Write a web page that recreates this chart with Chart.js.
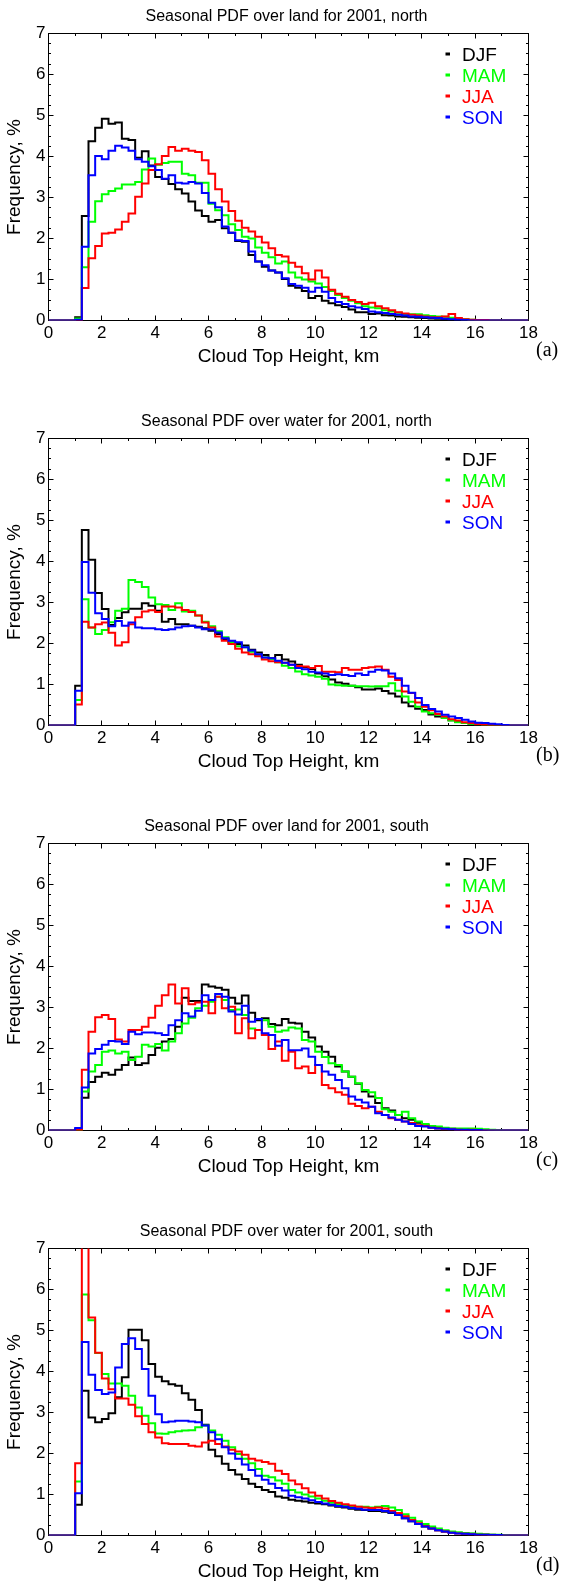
<!DOCTYPE html>
<html>
<head>
<meta charset="utf-8">
<script src="https://cdn.jsdelivr.net/npm/chart.js@4.4.1/dist/chart.umd.min.js"></script>
<style>
html,body{margin:0;padding:0;background:#fff;}
#wrap{position:relative;width:566px;height:1583px;overflow:hidden;background:#fff;}
canvas{position:absolute;left:0;}
</style>
</head>
<body>
<div id="wrap">
<canvas id="p0" width="566" height="405" style="top:0px"></canvas>
<canvas id="p1" width="566" height="405" style="top:405px"></canvas>
<canvas id="p2" width="566" height="405" style="top:810px"></canvas>
<canvas id="p3" width="566" height="405" style="top:1215px"></canvas>
</div>
<script>
// ---------------- data ----------------
const panelTitles = [
  "Seasonal PDF over land for 2001, north",
  "Seasonal PDF over water for 2001, north",
  "Seasonal PDF over land for 2001, south",
  "Seasonal PDF over water for 2001, south"
];
const panelTags = ["(a)", "(b)", "(c)", "(d)"];
const seasons = ["DJF", "MAM", "JJA", "SON"];
const seasonColors = ["#000000", "#00ff00", "#ff0000", "#0000ff"];
const xTitle = "Cloud Top Height, km";
const yTitle = "Frequency, %";

// left edges of 0.25 km bins
const binEdges = [
  0,0.25,0.5,0.75, 1,1.25,1.5,1.75, 2,2.25,2.5,2.75, 3,3.25,3.5,3.75,
  4,4.25,4.5,4.75, 5,5.25,5.5,5.75, 6,6.25,6.5,6.75, 7,7.25,7.5,7.75,
  8,8.25,8.5,8.75, 9,9.25,9.5,9.75, 10,10.25,10.5,10.75, 11,11.25,11.5,11.75,
  12,12.25,12.5,12.75, 13,13.25,13.5,13.75, 14,14.25,14.5,14.75, 15,15.25,15.5,15.75,
  16,16.25,16.5,16.75, 17,17.25,17.5,17.75
];
const xEnd = 18;

// (a) land, north
const landNorthDJF = [
  0,0,0,0, 0.08,2.55,4.37,4.70, 4.92,4.80,4.83,4.43, 4.40,3.97,4.13,3.78,
  3.50,3.45,3.33,3.20, 3.10,2.90,2.68,2.55, 2.41,2.45,2.25,2.14, 1.94,1.92,1.60,1.44,
  1.31,1.22,1.17,1.01, 0.85,0.80,0.72,0.55, 0.60,0.48,0.42,0.37, 0.33,0.27,0.20,0.20,
  0.16,0.17,0.13,0.12, 0.10,0.09,0.08,0.07, 0.06,0.05,0.04,0.03, 0.03,0.02,0.01,0.01,
  0,0,0,0, 0,0,0,0
];
const landNorthMAM = [
  0,0,0,0, 0.05,1.30,2.41,2.91, 3.08,3.16,3.22,3.32, 3.32,3.38,3.68,3.95,
  3.80,3.84,3.87,3.87, 3.58,3.54,3.36,3.36, 2.85,2.69,2.57,2.35, 2.21,2.04,2.00,1.78,
  1.65,1.54,1.39,1.44, 1.17,1.05,1.00,0.95, 0.90,0.82,0.72,0.62, 0.55,0.48,0.42,0.35,
  0.32,0.30,0.25,0.22, 0.19,0.16,0.15,0.15, 0.13,0.11,0.10,0.09, 0.07,0.04,0.03,0.02,
  0.01,0,0,0, 0,0,0,0
];
const landNorthJJA = [
  0,0,0,0, 0,0.79,1.52,1.82, 2.12,2.14,2.22,2.41, 2.61,3.02,3.34,3.67,
  3.81,4.01,4.23,4.14, 4.19,4.14,4.11,3.91, 3.58,3.20,2.90,2.67, 2.43,2.26,2.17,2.04,
  1.90,1.76,1.60,1.56, 1.41,1.31,1.15,1.00, 1.22,1.05,0.75,0.65, 0.58,0.50,0.45,0.40,
  0.43,0.35,0.30,0.25, 0.20,0.17,0.14,0.12, 0.10,0.08,0.08,0.10, 0.16,0.06,0.03,0.02,
  0.01,0.01,0,0, 0,0,0,0
];
const landNorthSON = [
  0,0,0,0, 0.02,1.80,3.54,4.01, 3.93,4.14,4.26,4.22, 4.14,3.93,3.87,3.76,
  3.67,3.46,3.54,3.36, 3.34,3.38,3.34,3.11, 2.87,2.76,2.29,2.14, 1.96,1.94,1.68,1.44,
  1.35,1.22,1.17,1.03, 0.89,0.85,0.80,0.70, 0.80,0.70,0.55,0.45, 0.40,0.35,0.32,0.28,
  0.22,0.20,0.18,0.16, 0.14,0.12,0.10,0.09, 0.08,0.07,0.06,0.04, 0.03,0.02,0.01,0,
  0,0,0,0, 0,0,0,0
];

// (b) water, north
const waterNorthDJF = [
  0,0,0,0, 0.97,4.77,4.04,3.23, 2.84,2.45,2.62,2.76, 2.85,2.85,2.98,2.92,
  2.80,2.53,2.60,2.47, 2.47,2.43,2.41,2.37, 2.31,2.23,2.11,2.03, 1.99,1.95,1.85,1.78,
  1.72,1.64,1.72,1.61, 1.56,1.48,1.42,1.38, 1.27,1.20,1.12,1.05, 1.02,0.97,0.93,0.88,
  0.88,0.90,0.84,0.78, 0.71,0.56,0.47,0.41, 0.38,0.27,0.22,0.18, 0.13,0.09,0.06,0.04,
  0.03,0.02,0.01,0.01, 0,0,0,0
];
const waterNorthMAM = [
  0,0,0,0, 0.62,3.08,2.39,2.23, 2.33,2.52,2.80,2.85, 3.55,3.50,3.38,3.12,
  2.96,2.94,2.82,2.98, 2.78,2.80,2.68,2.53, 2.42,2.30,2.15,2.03, 1.93,1.91,1.80,1.72,
  1.66,1.62,1.54,1.46, 1.40,1.32,1.25,1.22, 1.19,1.14,1.00,0.98, 0.97,0.97,0.96,0.96,
  0.95,0.96,0.96,1.03, 0.85,0.71,0.58,0.46, 0.34,0.30,0.26,0.18, 0.12,0.08,0.06,0.04,
  0.03,0.02,0.01,0.01, 0,0,0,0
];
const waterNorthJJA = [
  0,0,0,0, 0.51,2.53,2.39,2.47, 2.51,2.26,1.95,2.03, 2.47,2.64,2.78,2.81,
  2.77,2.90,2.90,2.88, 2.82,2.77,2.68,2.51, 2.39,2.17,2.07,1.99, 1.87,1.78,1.74,1.69,
  1.61,1.57,1.54,1.53, 1.48,1.45,1.44,1.40, 1.45,1.31,1.31,1.30, 1.40,1.36,1.36,1.40,
  1.42,1.44,1.36,1.19, 1.11,0.83,0.79,0.56, 0.46,0.37,0.28,0.22, 0.15,0.12,0.08,0.06,
  0.03,0.02,0.01,0, 0,0,0,0
];
const waterNorthSON = [
  0,0,0,0, 0.85,3.99,3.24,2.74, 2.60,2.42,2.55,2.43, 2.51,2.39,2.37,2.37,
  2.35,2.33,2.35,2.39, 2.42,2.43,2.39,2.35, 2.34,2.27,2.13,2.07, 2.03,1.91,1.83,1.74,
  1.66,1.64,1.58,1.53, 1.48,1.40,1.37,1.31, 1.29,1.27,1.23,1.25, 1.23,1.21,1.27,1.23,
  1.31,1.36,1.34,1.27, 1.15,0.97,0.80,0.67, 0.50,0.40,0.34,0.26, 0.22,0.18,0.14,0.10,
  0.07,0.06,0.04,0.03, 0.01,0,0,0
];

// (c) land, south
const landSouthDJF = [
  0,0,0,0, 0.03,0.80,1.18,1.31, 1.41,1.36,1.48,1.60, 1.78,1.60,1.64,1.84,
  2.02,2.17,2.23,2.53, 3.24,3.16,3.16,3.56, 3.51,3.48,3.43,3.24, 3.10,3.29,2.87,2.69,
  2.74,2.60,2.57,2.72, 2.63,2.61,2.41,2.27, 2.05,1.92,1.80,1.56, 1.44,1.31,1.14,0.95,
  0.83,0.67,0.54,0.49, 0.38,0.30,0.26,0.19, 0.14,0.10,0.07,0.05, 0.04,0.03,0.02,0.02,
  0.01,0.01,0,0, 0,0,0,0
];
const landSouthMAM = [
  0,0,0,0, 0.02,0.95,1.44,1.60, 1.92,1.95,1.88,1.92, 1.72,1.80,2.09,2.05,
  2.11,1.95,2.17,2.37, 2.61,2.75,2.98,3.04, 3.14,3.26,3.18,2.94, 2.95,2.82,2.49,2.45,
  2.69,2.53,2.41,2.44, 2.51,2.49,2.21,2.17, 1.92,1.79,1.64,1.60, 1.44,1.31,1.15,0.99,
  0.93,0.79,0.52,0.46, 0.38,0.46,0.30,0.22, 0.16,0.11,0.10,0.07, 0.05,0.05,0.05,0.05,
  0.04,0.03,0.02,0.01, 0,0,0,0
];
const landSouthJJA = [
  0,0,0,0, 0.01,1.48,2.41,2.76, 2.82,2.72,2.22,2.17, 2.45,2.45,2.53,2.75,
  3.04,3.30,3.56,3.10, 3.47,3.08,3.12,3.14, 2.86,3.26,2.98,3.02, 2.37,2.74,2.25,2.45,
  2.33,1.99,2.17,1.70, 1.92,1.52,1.56,1.40, 1.60,1.11,1.03,0.93, 0.87,0.65,0.60,0.54,
  0.58,0.46,0.38,0.30, 0.26,0.22,0.18,0.13, 0.11,0.07,0.05,0.03, 0.03,0.02,0.01,0.02,
  0.01,0,0,0, 0,0,0,0
];
const landSouthSON = [
  0,0,0,0, 0.06,1.05,1.88,1.99, 2.09,2.18,2.17,2.11, 2.41,2.35,2.39,2.39,
  2.37,2.33,2.57,2.69, 2.86,2.78,2.92,3.30, 3.18,3.33,3.26,2.90, 2.83,3.04,2.65,2.72,
  2.37,2.33,2.07,2.21, 1.96,1.96,2.00,1.80, 1.60,1.44,1.36,1.23, 1.03,0.83,0.75,0.68,
  0.58,0.42,0.38,0.32, 0.26,0.22,0.16,0.11, 0.10,0.07,0.05,0.04, 0.03,0.02,0.02,0.01,
  0.01,0,0,0, 0,0,0,0
];

// (d) water, south
const waterSouthDJF = [
  0,0,0,0, 0.75,3.53,2.88,2.76, 2.84,2.98,3.37,3.86, 5.02,5.02,4.76,4.18,
  3.87,3.76,3.69,3.65, 3.47,3.31,3.06,2.70, 2.09,1.93,1.75,1.60, 1.49,1.38,1.26,1.18,
  1.11,1.06,0.95,0.92, 0.87,0.85,0.83,0.80, 0.78,0.76,0.73,0.70, 0.68,0.65,0.63,0.62,
  0.60,0.60,0.58,0.55, 0.50,0.42,0.35,0.28, 0.22,0.17,0.13,0.10, 0.08,0.06,0.05,0.04,
  0.03,0.02,0.02,0.01, 0.01,0,0,0
];
const waterSouthMAM = [
  0,0,0,0, 1.32,5.88,5.25,4.45, 3.94,3.71,3.71,3.65, 3.41,3.12,2.92,2.74,
  2.49,2.48,2.52,2.54, 2.56,2.57,2.64,2.68, 2.56,2.46,2.31,2.15, 1.99,1.87,1.76,1.62,
  1.46,1.42,1.34,1.26, 1.11,1.05,1.00,0.95, 0.90,0.85,0.80,0.77, 0.74,0.72,0.70,0.70,
  0.68,0.70,0.72,0.68, 0.62,0.52,0.43,0.35, 0.28,0.22,0.17,0.13, 0.10,0.08,0.06,0.05,
  0.04,0.03,0.02,0.02, 0.01,0,0,0
];
const waterSouthJJA = [
  0,0,0,0, 1.76,7.80,5.32,4.46, 3.83,3.57,3.34,3.34, 3.19,2.91,2.72,2.52,
  2.39,2.25,2.23,2.23, 2.23,2.19,2.17,2.27, 2.31,2.23,2.17,2.09, 2.05,1.97,1.87,1.83,
  1.79,1.75,1.58,1.50, 1.34,1.25,1.15,1.05, 0.97,0.90,0.84,0.80, 0.76,0.73,0.70,0.68,
  0.67,0.68,0.66,0.60, 0.55,0.47,0.38,0.30, 0.23,0.17,0.13,0.10, 0.07,0.05,0.04,0.03,
  0.02,0.02,0.01,0.01, 0,0,0,0
];
const waterSouthSON = [
  0,0,0,0, 1.03,4.72,3.92,3.55, 3.45,3.49,4.10,4.67, 4.81,4.55,4.06,3.41,
  2.96,2.76,2.78,2.80, 2.80,2.78,2.76,2.68, 2.52,2.35,2.15,2.00, 1.87,1.73,1.60,1.46,
  1.36,1.26,1.16,1.10, 0.97,0.93,0.90,0.86, 0.82,0.78,0.75,0.72, 0.70,0.67,0.65,0.63,
  0.62,0.62,0.60,0.56, 0.50,0.42,0.35,0.28, 0.22,0.17,0.13,0.10, 0.07,0.05,0.04,0.03,
  0.02,0.02,0.01,0.01, 0,0,0,0
];

const panels = [
  [landNorthDJF, landNorthMAM, landNorthJJA, landNorthSON],
  [waterNorthDJF, waterNorthMAM, waterNorthJJA, waterNorthSON],
  [landSouthDJF, landSouthMAM, landSouthJJA, landSouthSON],
  [waterSouthDJF, waterSouthMAM, waterSouthJJA, waterSouthSON]
];

// ---------------- drawing ----------------
const FONT = "'Liberation Sans', Arial, Helvetica, sans-serif";
const SERIF = "'Liberation Serif', 'Times New Roman', serif";

function toSteps(vals) {
  const pts = binEdges.map((x, i) => ({ x: x, y: vals[i] }));
  pts.push({ x: xEnd, y: vals[vals.length - 1] });
  return pts;
}

function framePlugin(idx) {
  return {
    id: 'frame' + idx,
    beforeDatasetsDraw(chart) {
      const { ctx, chartArea: a, scales: { x, y } } = chart;
      const snap = v => Math.floor(v) + 0.5;
      ctx.save();
      ctx.strokeStyle = '#000';
      ctx.lineWidth = 1;
      ctx.strokeRect(a.left, a.top, a.right - a.left, a.bottom - a.top);
      ctx.beginPath();
      const xt = x.ticks.map(t => t.value);
      const yt = y.ticks.map(t => t.value);
      const MAJ = 5, MIN = 2.5;
      xt.forEach(v => {
        const p = snap(x.getPixelForValue(v));
        ctx.moveTo(p, a.bottom); ctx.lineTo(p, a.bottom - MAJ);
        ctx.moveTo(p, a.top); ctx.lineTo(p, a.top + MAJ);
      });
      for (let i = 0; i < xt.length - 1; i++) {
        const p = snap(x.getPixelForValue((xt[i] + xt[i + 1]) / 2));
        ctx.moveTo(p, a.bottom); ctx.lineTo(p, a.bottom - MIN);
        ctx.moveTo(p, a.top); ctx.lineTo(p, a.top + MIN);
      }
      yt.forEach(v => {
        const p = snap(y.getPixelForValue(v));
        ctx.moveTo(a.left, p); ctx.lineTo(a.left + MAJ, p);
        ctx.moveTo(a.right, p); ctx.lineTo(a.right - MAJ, p);
      });
      for (let i = 0; i < yt.length - 1; i++) {
        for (let k = 1; k < 4; k++) {
          const p = snap(y.getPixelForValue(yt[i] + (yt[i + 1] - yt[i]) * k / 4));
          ctx.moveTo(a.left, p); ctx.lineTo(a.left + MIN, p);
          ctx.moveTo(a.right, p); ctx.lineTo(a.right - MIN, p);
        }
      }
      ctx.stroke();
      ctx.restore();
    },
    afterDraw(chart) {
      const { ctx, chartArea: a } = chart;
      ctx.save();
      // panel title
      ctx.fillStyle = '#000';
      ctx.font = '16px ' + FONT;
      ctx.textAlign = 'center';
      ctx.textBaseline = 'alphabetic';
      ctx.fillText(panelTitles[idx], (a.left + a.right) / 2 - 2, a.top - 12.8);
      // legend
      ctx.font = '19px ' + FONT;
      ctx.textAlign = 'left';
      seasons.forEach((s, k) => {
        const base = a.top + 27.5 + k * 21;
        ctx.fillStyle = seasonColors[k];
        ctx.fillRect(a.right - 83, base - 8.5, 4.5, 3);
        ctx.fillText(s, a.right - 66.5, base);
      });
      // panel tag
      ctx.fillStyle = '#000';
      ctx.font = '20px ' + SERIF;
      ctx.fillText(panelTags[idx], a.right + 7.5, a.bottom + 35);
      ctx.restore();
    }
  };
}

function makePanel(idx) {
  const seriesList = panels[idx];
  new Chart(document.getElementById('p' + idx), {
    type: 'line',
    data: {
      datasets: seasons.map((s, k) => ({
        label: s,
        data: toSteps(seriesList[k]),
        borderColor: seasonColors[k],
        backgroundColor: seasonColors[k],
        borderWidth: 2,
        pointRadius: 0,
        stepped: 'before',
        fill: false,
        order: 3 - k
      }))
    },
    options: {
      responsive: false,
      animation: false,
      events: [],
      layout: { padding: { top: 33.5, right: 37.5, bottom: 0, left: 0 } },
      plugins: {
        legend: { display: false },
        tooltip: { enabled: false },
        title: { display: false }
      },
      scales: {
        x: {
          type: 'linear', min: 0, max: 18,
          grid: { display: false, drawTicks: false },
          border: { display: false },
          ticks: { stepSize: 2, color: '#000', font: { size: 17, family: FONT }, padding: 3, maxRotation: 0, autoSkip: false },
          title: { display: true, text: xTitle, color: '#000', font: { size: 19, family: FONT }, padding: { top: 0, bottom: 36.6 } },
          afterFit(s) { s.height = 84.5; }
        },
        y: {
          type: 'linear', min: 0, max: 7,
          grid: { display: false, drawTicks: false },
          border: { display: false },
          ticks: { stepSize: 1, color: '#000', font: { size: 17, family: FONT }, padding: 3 },
          title: { display: true, text: yTitle, color: '#000', font: { size: 19, family: FONT }, padding: { top: 3, bottom: 0 } },
          afterFit(s) { s.width = 48.5; }
        }
      }
    },
    plugins: [framePlugin(idx)]
  });
}

for (let i = 0; i < 4; i++) makePanel(i);
</script>
</body>
</html>
